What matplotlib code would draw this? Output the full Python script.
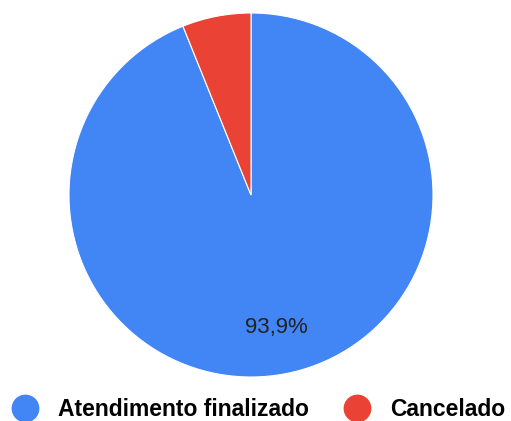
import matplotlib
matplotlib.use("Agg")
from matplotlib import pyplot as plt
from matplotlib.lines import Line2D

labels = ["Atendimento finalizado", "Cancelado"]
values = [93.9, 6.1]
colors = ["#4285F4", "#EA4335"]

W, H = 511, 421
fig = plt.figure(figsize=(W / 100, H / 100), dpi=100)

# pie center (251,195) px from top-left, radius 182 px
cx, cy, r = 251, 195, 182
ax = fig.add_axes([(cx - r) / W, (H - cy - r) / H, 2 * r / W, 2 * r / H])


def pct_fmt(p):
    if p < 10:
        return ""
    return ("%.1f%%" % p).replace(".", ",")


wedges, texts, autotexts = ax.pie(values, colors=colors, startangle=90, counterclock=False,
                                  autopct=pct_fmt, pctdistance=0.74,
                                  wedgeprops=dict(edgecolor="white", linewidth=0.8),
                                  textprops=dict(fontsize=16, family="Liberation Sans", color="#222222"))
ax.set_xlim(-1, 1)
ax.set_ylim(-1, 1)
ax.set_aspect("auto")

handles = [Line2D([], [], marker="o", linestyle="", markersize=19,
                  markerfacecolor=c, markeredgecolor=c) for c in colors]
fig.legend(handles, labels, ncol=2, loc="center left", bbox_to_anchor=(11 / W, (H - 410) / H),
           frameon=False, handletextpad=0.85, columnspacing=1.5, borderaxespad=0, borderpad=0,
           handlelength=1.2,
           prop=dict(family="Liberation Sans", weight="bold", size=16.5))

fig.savefig("out.png", dpi=100)
